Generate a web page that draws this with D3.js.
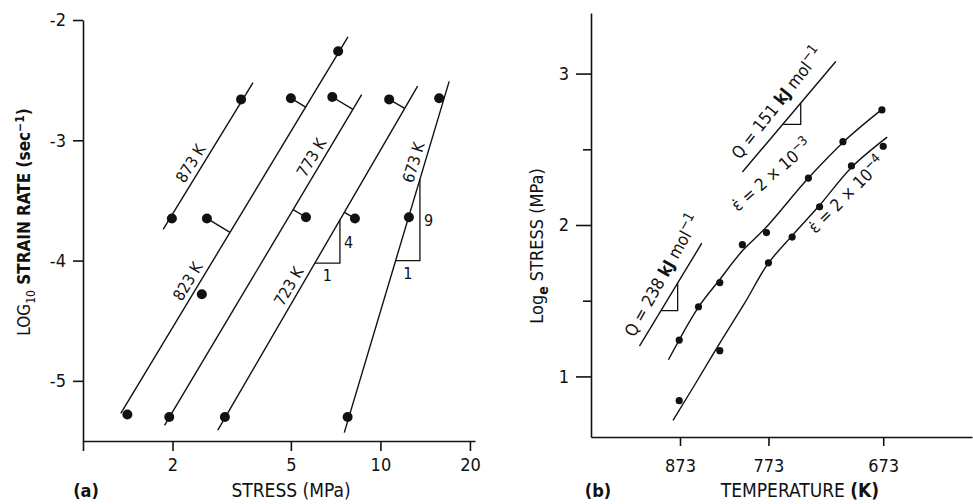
<!DOCTYPE html>
<meta charset="utf-8">
<script src="https://d3js.org/d3.v7.min.js"></script>
<style>
  body { margin: 0; background: #fff; }
  text { font-family: "DejaVu Sans Condensed", "Liberation Sans Narrow", "Roboto Condensed", sans-serif; fill: #111; }
  .axis text { font-size: 18px; }
  .axis path, .axis line { stroke: #111; stroke-width: 1.6; }
</style>
<div id="my_dataviz"></div>
<script>

// ---------- panel (a) data : log10 strain rate vs stress ----------
var tempsA = ["873 K", "823 K", "773 K", "723 K", "673 K"];
// fitted straight lines, end points as [stress MPa, log10 strain rate]
var fitA = [
  [[1.86, -3.74], [3.73, -2.52]],
  [[1.34, -5.27], [7.78, -2.14]],
  [[1.88, -5.37], [8.65, -2.62]],
  [[2.84, -5.41], [13.34, -2.55]],
  [[7.56, -5.43], [17.03, -2.51]]
];
// measured points [stress, log10 rate, 1 = tied to its line by a short stroke]
var ptsA = [
  [[1.99, -3.65, 0], [3.40, -2.66, 0]],
  [[1.41, -5.28, 0], [2.51, -4.28, 0], [2.61, -3.65, 1], [5.00, -2.65, 1], [7.21, -2.26, 0]],
  [[1.95, -5.30, 0], [5.62, -3.64, 1], [6.89, -2.64, 1]],
  [[3.00, -5.30, 0], [8.21, -3.65, 1], [10.70, -2.66, 1]],
  [[7.76, -5.30, 0], [12.47, -3.64, 0], [15.76, -2.65, 0]]
];
var labelAtA = [-3.24, -4.22, -3.19, -4.26, -3.21];   // log rate where each label sits
var slopesA = [
  {line: 3, s0: 6.02, s1: 7.31, n: "4"},
  {line: 4, s0: 11.25, s1: 13.58, n: "9"}
];
var xTicksA = [1, 2, 5, 10, 20];
var yTicksA = [-2, -3, -4, -5];

// ---------- panel (b) data : ln stress vs temperature ----------
var tUp = [874, 850, 825, 800, 775, 735, 705, 674];
var lnUp = [1.24, 1.46, 1.62, 1.87, 1.95, 2.31, 2.55, 2.76];
var tLo = [874, 825, 773, 750, 725, 698, 673];
var lnLo = [0.84, 1.17, 1.75, 1.92, 2.12, 2.39, 2.52];
// drawn curves [T, ln stress]
var curveUp = [[888, 1.11], [851, 1.45], [825, 1.64], [800, 1.83], [776, 1.98], [735, 2.31], [703, 2.56], [673, 2.77]];
var curveLo = [[882, 0.71], [854, 0.95], [825, 1.22], [797, 1.49], [774, 1.74], [750, 1.93], [725, 2.13], [698, 2.38], [670, 2.58]];
var rateLabels = [
  {exp: "3", T: 770, ln: 2.33, angle: -41},
  {exp: "4", T: 702, ln: 2.20, angle: -45}
];
// activation energy guide lines
var qLines = [
  {q: "238", a: [928, 1.20], b: [846, 1.88], t0: 898, t1: 876, at: 0.6, off: 17},
  {q: "151", a: [800, 2.35], b: [711, 3.08], t0: 759, t1: 742, at: 0.52, off: 18}
];
var xTicksB = [873, 773, 673];
var yTicksB = [1, 2, 3];
var yMinorB = [1.5, 2.5];

var svg = d3.select("#my_dataviz")
  .append("svg")
    .attr("width", 973)
    .attr("height", 504);

// helpers
function foot(p, a, b) {
  var dx = b[0] - a[0], dy = b[1] - a[1];
  var t = ((p[0] - a[0]) * dx + (p[1] - a[1]) * dy) / (dx * dx + dy * dy);
  return [a[0] + t * dx, a[1] + t * dy];
}
function rotLabel(x, y, ang) {
  return svg.append("text")
    .attr("transform", "translate(" + x + "," + y + ") rotate(" + ang + ")")
    .attr("text-anchor", "middle")
    .attr("dy", "0.35em")
    .style("font-size", "15px");
}

// ================= panel (a) =================
var xA = d3.scaleLog().domain([1, 20.8]).range([83, 475]);
var yA = d3.scaleLinear().domain([-5.5, -2]).range([441, 20]);

svg.append("g").attr("class", "axis")
  .attr("transform", "translate(83,0)")
  .call(d3.axisLeft(yA).tickValues(yTicksA).tickSize(10).tickSizeOuter(0).tickPadding(7)
    .tickFormat(function(d) { return "-" + Math.abs(d); }));

svg.append("g").attr("class", "axis")
  .attr("transform", "translate(0,441)")
  .call(d3.axisBottom(xA).tickValues(xTicksA).tickSize(10).tickSizeOuter(0).tickPadding(7)
    .tickFormat(function(d) { return d === 1 ? "" : d; }));

function pA(s, e) { return [xA(s), yA(e)]; }
function onLineA(i, e) {
  var a = fitA[i][0], b = fitA[i][1];
  var t = (e - a[1]) / (b[1] - a[1]);
  var ls = Math.log10(a[0]) + t * (Math.log10(b[0]) - Math.log10(a[0]));
  return pA(Math.pow(10, ls), e);
}
function atStressA(i, s) {
  var a = fitA[i][0], b = fitA[i][1];
  var t = (Math.log10(s) - Math.log10(a[0])) / (Math.log10(b[0]) - Math.log10(a[0]));
  return pA(s, a[1] + t * (b[1] - a[1]));
}

fitA.forEach(function(seg, i) {
  var p0 = pA(seg[0][0], seg[0][1]), p1 = pA(seg[1][0], seg[1][1]);
  svg.append("line")
    .attr("x1", p0[0]).attr("y1", p0[1]).attr("x2", p1[0]).attr("y2", p1[1])
    .attr("stroke", "#111").attr("stroke-width", 1.4);

  ptsA[i].forEach(function(d) {
    var p = pA(d[0], d[1]);
    if (d[2]) {
      var f = foot(p, p0, p1);
      svg.append("line")
        .attr("x1", p[0]).attr("y1", p[1]).attr("x2", f[0]).attr("y2", f[1])
        .attr("stroke", "#111").attr("stroke-width", 1.4);
    }
    svg.append("circle").attr("cx", p[0]).attr("cy", p[1]).attr("r", 5).attr("fill", "#111");
  });

  // label along the line
  var dx = p1[0] - p0[0], dy = p1[1] - p0[1], len = Math.hypot(dx, dy);
  var c = onLineA(i, labelAtA[i]);
  var ang = Math.atan2(dy, dx) * 180 / Math.PI;
  rotLabel(c[0] + dy / len * 11, c[1] - dx / len * 11, ang).style("font-size", "16px").text(tempsA[i]);
});

slopesA.forEach(function(d) {
  var q0 = atStressA(d.line, d.s0), q1 = atStressA(d.line, d.s1);
  svg.append("path")
    .attr("d", "M" + q0[0] + "," + q0[1] + "L" + q1[0] + "," + q0[1] + "L" + q1[0] + "," + q1[1])
    .attr("fill", "none").attr("stroke", "#111").attr("stroke-width", 1.3);
  svg.append("text").attr("x", (q0[0] + q1[0]) / 2).attr("y", q0[1] + 18)
    .attr("text-anchor", "middle").style("font-size", "16px").text("1");
  svg.append("text").attr("x", q1[0] + 4).attr("y", (q0[1] + q1[1]) / 2 + 6)
    .style("font-size", "16px").text(d.n);
});

// axis titles (a)
var ttlA = svg.append("text")
  .attr("transform", "translate(30,222) rotate(-90)")
  .attr("text-anchor", "middle")
  .style("font-size", "17px");
ttlA.append("tspan").text("LOG");
ttlA.append("tspan").attr("dy", 5).style("font-size", "12px").text("10");
ttlA.append("tspan").attr("dy", -5).style("font-weight", "bold").text(" STRAIN RATE (sec");
ttlA.append("tspan").attr("dy", -6).style("font-size", "12px").style("font-weight", "bold").text("−1");
ttlA.append("tspan").attr("dy", 6).style("font-weight", "bold").text(")");

svg.append("text").attr("x", 291).attr("y", 497).attr("text-anchor", "middle")
  .style("font-size", "19px").text("STRESS (MPa)");
svg.append("text").attr("x", 86).attr("y", 497).attr("text-anchor", "middle")
  .style("font-size", "18px").style("font-weight", "bold").text("(a)");

// ================= panel (b) =================
var xB = d3.scaleLinear().domain([0.9964, 1.6346]).range([591, 972]);
var yB = d3.scaleLinear().domain([0.6, 3.4]).range([437, 13]);
function pB(T, v) { return [xB(1000 / T), yB(v)]; }

svg.append("g").attr("class", "axis")
  .attr("transform", "translate(591,0)")
  .call(d3.axisLeft(yB).tickValues(yTicksB).tickSize(15).tickSizeOuter(0).tickPadding(7)
    .tickFormat(d3.format("d")));
svg.append("g").attr("class", "axis")
  .attr("transform", "translate(591,0)")
  .call(d3.axisLeft(yB).tickValues(yMinorB).tickSize(8).tickFormat(""))
  .select(".domain").remove();
svg.append("g").attr("class", "axis")
  .attr("transform", "translate(0,437)")
  .call(d3.axisBottom(xB).tickValues(xTicksB.map(function(t) { return 1000 / t; }))
    .tickSize(9).tickSizeOuter(0).tickPadding(13)
    .tickFormat(function(v) { return Math.round(1000 / v); }));

var lineB = d3.line()
  .x(function(d) { return pB(d[0], d[1])[0]; })
  .y(function(d) { return pB(d[0], d[1])[1]; })
  .curve(d3.curveCatmullRom);

[curveUp, curveLo].forEach(function(c) {
  svg.append("path").attr("d", lineB(c))
    .attr("fill", "none").attr("stroke", "#111").attr("stroke-width", 1.4);
});

[[tUp, lnUp], [tLo, lnLo]].forEach(function(s) {
  svg.selectAll(null).data(d3.range(s[0].length)).enter()
    .append("circle")
      .attr("cx", function(i) { return pB(s[0][i], s[1][i])[0]; })
      .attr("cy", function(i) { return pB(s[0][i], s[1][i])[1]; })
      .attr("r", 3.6)
      .attr("fill", "#111");
});

rateLabels.forEach(function(d) {
  var p = pB(d.T, d.ln);
  var t = rotLabel(p[0], p[1], d.angle).style("font-size", "17px");
  t.append("tspan").text("ε̇ = 2 × 10");
  t.append("tspan").attr("dy", -7).style("font-size", "13px").text("−" + d.exp);
});

qLines.forEach(function(d) {
  var p0 = pB(d.a[0], d.a[1]), p1 = pB(d.b[0], d.b[1]);
  svg.append("line")
    .attr("x1", p0[0]).attr("y1", p0[1]).attr("x2", p1[0]).attr("y2", p1[1])
    .attr("stroke", "#111").attr("stroke-width", 1.4);
  // small triangle hanging under the line
  function at(T) {
    var u = (1000 / T - 1000 / d.a[0]) / (1000 / d.b[0] - 1000 / d.a[0]);
    return pB(T, d.a[1] + u * (d.b[1] - d.a[1]));
  }
  var q0 = at(d.t0), q1 = at(d.t1);
  svg.append("path")
    .attr("d", "M" + q0[0] + "," + q0[1] + "L" + q1[0] + "," + q0[1] + "L" + q1[0] + "," + q1[1])
    .attr("fill", "none").attr("stroke", "#111").attr("stroke-width", 1.3);

  var dx = p1[0] - p0[0], dy = p1[1] - p0[1], len = Math.hypot(dx, dy);
  var cx = p0[0] + dx * d.at + dy / len * d.off, cy = p0[1] + dy * d.at - dx / len * d.off;
  var t = rotLabel(cx, cy, Math.atan2(dy, dx) * 180 / Math.PI - 2).style("font-size", "17px");
  t.append("tspan").text("Q = " + d.q + " ");
  t.append("tspan").style("font-weight", "bold").text("kJ");
  t.append("tspan").text(" mol");
  t.append("tspan").attr("dy", -7).style("font-size", "14px").text("−1");
});

// axis titles (b)
var ttlB = svg.append("text")
  .attr("transform", "translate(543,246) rotate(-90)")
  .attr("text-anchor", "middle")
  .style("font-size", "18px");
ttlB.append("tspan").text("Log");
ttlB.append("tspan").attr("dy", 5).style("font-size", "14px").style("font-weight", "bold").text("e");
ttlB.append("tspan").attr("dy", -5).text(" STRESS (MPa)");

var ttlX = svg.append("text").attr("x", 800).attr("y", 497).attr("text-anchor", "middle")
  .style("font-size", "19px");
ttlX.append("tspan").text("TEMPERATURE ");
ttlX.append("tspan").style("font-weight", "bold").text("(K)");

svg.append("text").attr("x", 598).attr("y", 497).attr("text-anchor", "middle")
  .style("font-size", "18px").style("font-weight", "bold").text("(b)");

</script>
